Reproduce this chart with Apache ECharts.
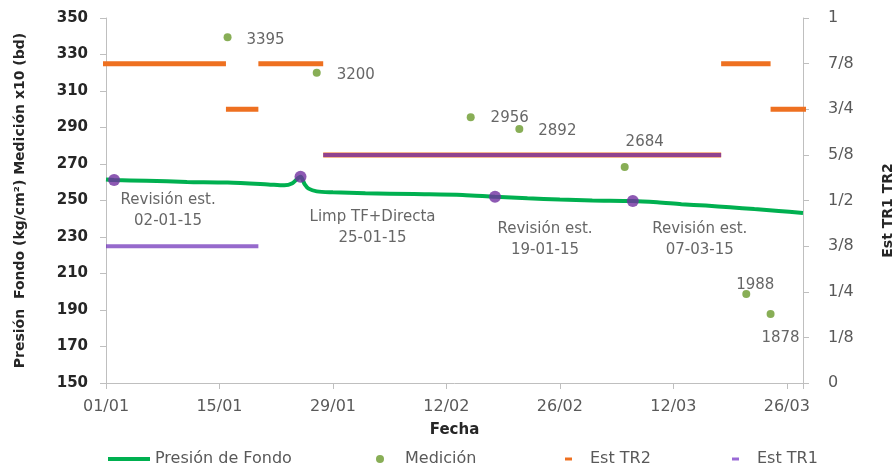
<!DOCTYPE html>
<html>
<head>
<meta charset="utf-8">
<script src="https://cdn.jsdelivr.net/npm/echarts@6/dist/echarts.min.js"></script>
<style>
html,body{margin:0;padding:0;background:#fff;}
#c{width:893px;height:471px;}
</style>
</head>
<body>
<div id="c"></div>
<script>
// x values are days counted from 01/01/2015 (day 0)
const xTickLabels = ['01/01','15/01','29/01','12/02','26/02','12/03','26/03'];
const rightTickLabels = ['0','1/8','1/4','3/8','1/2','5/8','3/4','7/8','1'];

// Presión de Fondo (kg/cm2)
const pressureDays   = [0, 1, 5, 10, 15, 20, 22, 23, 24, 24.5, 25, 26, 28, 32, 38, 44, 48, 52, 56, 60, 65, 68, 71, 74, 77, 80, 83, 86];
const pressureValues = [261.5, 261.2, 260.8, 260.2, 259.8, 258.8, 258.3, 259.5, 263, 259, 256.5, 255, 254.5, 254, 253.5, 253, 252, 251.2, 250.5, 250, 249.7, 249, 248, 247.2, 246.3, 245.3, 244.3, 243.2];

// Medición x10 (bd)
const medDays   = [15, 26, 45, 51, 64, 79, 82];
const medValues = [339.5, 320, 295.6, 289.2, 268.4, 198.8, 187.8];
const medLabels = ['3395', '3200', '2956', '2892', '2684', '1988', '1878'];

// Est TR2 / Est TR1 segments: [startDay, endDay, value]
const tr2Segments = [[-0.4, 14.8, 0.875], [14.8, 18.8, 0.75], [18.8, 26.8, 0.875], [26.8, 75.9, 0.625], [75.9, 82, 0.875], [82, 87, 0.75]];
const tr1Segments = [[0, 18.8, 0.375], [26.8, 75.9, 0.625]];

// Events on the pressure curve
const eventDays   = [1, 24, 48, 65];
const eventValues = [261.2, 263, 252, 249.7];
const eventLabels = ['Revisión est.\n02-01-15', 'Limp TF+Directa\n25-01-15', 'Revisión est.\n19-01-15', 'Revisión est.\n07-03-15'];

const FONT = 'DejaVu Sans';
const medOffsets = [[38, 3], [39, 2], [39, 1], [38, 2], [20, -25], [9, -9], [10, 24]];
const eventOffsets = [[54, 31], [72, 51], [50, 43], [67, 39]];

function segData(segs) {
  const out = [];
  segs.forEach(s => { out.push([s[0], s[2]]); out.push([s[1], s[2]]); out.push([s[1], '-']); });
  return out;
}

const chart = echarts.init(document.getElementById('c'), null, {renderer: 'canvas'});
chart.setOption({
  animation: false,
  backgroundColor: '#ffffff',
  grid: {left: 106, right: 90, top: 18, bottom: 88, containLabel: false, outerBoundsMode: 'none'},
  xAxis: {
    type: 'value', min: 0, max: 86, interval: 14,
    name: 'Fecha', nameLocation: 'middle', nameGap: 40,
    nameTextStyle: {fontFamily: FONT, fontWeight: 'bold', fontSize: 15, color: '#262626'},
    axisLine: {show: true, lineStyle: {color: '#bfbfbf', width: 1}},
    axisTick: {show: true, length: 6, lineStyle: {color: '#bfbfbf'}},
    splitLine: {show: false},
    axisLabel: {
      margin: 16, fontFamily: FONT, fontSize: 16, color: '#595959',
      formatter: v => (Math.abs(v % 14) < 1e-6 ? (xTickLabels[Math.round(v / 14)] || '') : '')
    }
  },
  yAxis: [{
    type: 'value', min: 150, max: 350, interval: 20, position: 'left',
    name: 'Presión  Fondo (kg/cm²) Medición x10 (bd)', nameLocation: 'middle', nameGap: 79, nameRotate: 90,
    nameTextStyle: {fontFamily: FONT, fontWeight: 'bold', fontSize: 14, color: '#262626'},
    axisLine: {show: true, lineStyle: {color: '#bfbfbf'}},
    axisTick: {show: true, length: 6, lineStyle: {color: '#bfbfbf'}},
    splitLine: {show: false},
    axisLabel: {margin: 18, fontFamily: FONT, fontWeight: 'bold', fontSize: 15, color: '#262626'}
  }, {
    type: 'value', min: 0, max: 1, interval: 0.125, position: 'right',
    name: 'Est TR1 TR2', nameLocation: 'middle', nameGap: 78, nameRotate: 90,
    nameTextStyle: {fontFamily: FONT, fontWeight: 'bold', fontSize: 14, color: '#262626', padding: [0, 20, 0, 0]},
    axisLine: {show: true, lineStyle: {color: '#bfbfbf'}},
    axisTick: {show: true, length: 6, lineStyle: {color: '#bfbfbf'}},
    splitLine: {show: false},
    axisLabel: {margin: 25, fontFamily: FONT, fontSize: 16, color: '#595959',
      formatter: v => rightTickLabels[Math.round(v * 8)] || ''}
  }],
  legend: [
    {data: [{name: 'Presión de Fondo', icon: 'rect'}], left: 103, top: 446, itemWidth: 42, itemHeight: 4,
     textStyle: {fontFamily: FONT, fontSize: 16, color: '#595959'}},
    {data: [{name: 'Medición', icon: 'circle'}], left: 371, top: 446, itemWidth: 8, itemHeight: 8,
     textStyle: {fontFamily: FONT, fontSize: 16, color: '#595959', padding: [0, 0, 0, 16]}},
    {data: [{name: 'Est TR2', icon: 'rect'}], left: 560, top: 446, itemWidth: 7, itemHeight: 3,
     textStyle: {fontFamily: FONT, fontSize: 16, color: '#595959', padding: [0, 0, 0, 13]}},
    {data: [{name: 'Est TR1', icon: 'rect'}], left: 727, top: 446, itemWidth: 7, itemHeight: 3,
     textStyle: {fontFamily: FONT, fontSize: 16, color: '#595959', padding: [0, 0, 0, 13]}}
  ],
  series: [
    {
      name: 'Presión de Fondo', type: 'line', yAxisIndex: 0, z: 2,
      data: pressureDays.map((d, i) => [d, pressureValues[i]]),
      showSymbol: false, symbol: 'none', smooth: 0.3,
      lineStyle: {color: '#00b050', width: 4}, itemStyle: {color: '#00b050'}
    },
    {
      name: 'Medición', type: 'scatter', yAxisIndex: 0, z: 3,
      symbol: 'circle', symbolSize: 8,
      itemStyle: {color: '#6a9a2c'},
      data: medDays.map((d, i) => ({
        value: [d, medValues[i]],
        label: {show: true, position: 'inside', offset: medOffsets[i], formatter: medLabels[i],
          fontFamily: FONT, fontSize: 15, color: '#404040'}
      }))
    },
    {
      name: 'Est TR2', type: 'line', yAxisIndex: 1, z: 4, clip: false,
      data: segData(tr2Segments), showSymbol: false, symbol: 'none', connectNulls: false,
      lineStyle: {color: '#ee7020', width: 5, cap: 'butt'}, itemStyle: {color: '#ee7020'}
    },
    {
      name: 'Est TR1', type: 'line', yAxisIndex: 1, z: 5, clip: false,
      data: segData(tr1Segments), showSymbol: false, symbol: 'none', connectNulls: false,
      lineStyle: {color: '#6e30b8', width: 4, opacity: 0.72, cap: 'butt'}, itemStyle: {color: '#9a6ad6'}
    },
    {
      name: 'Eventos', type: 'scatter', yAxisIndex: 0, z: 6,
      symbol: 'circle', symbolSize: 12,
      itemStyle: {color: '#7030a0'},
      data: eventDays.map((d, i) => ({
        value: [d, eventValues[i]],
        label: {show: true, position: 'inside', offset: eventOffsets[i], formatter: eventLabels[i],
          fontFamily: FONT, fontSize: 15, lineHeight: 21, color: '#404040', align: 'center'}
      }))
    }
  ]
});
</script>
</body>
</html>
